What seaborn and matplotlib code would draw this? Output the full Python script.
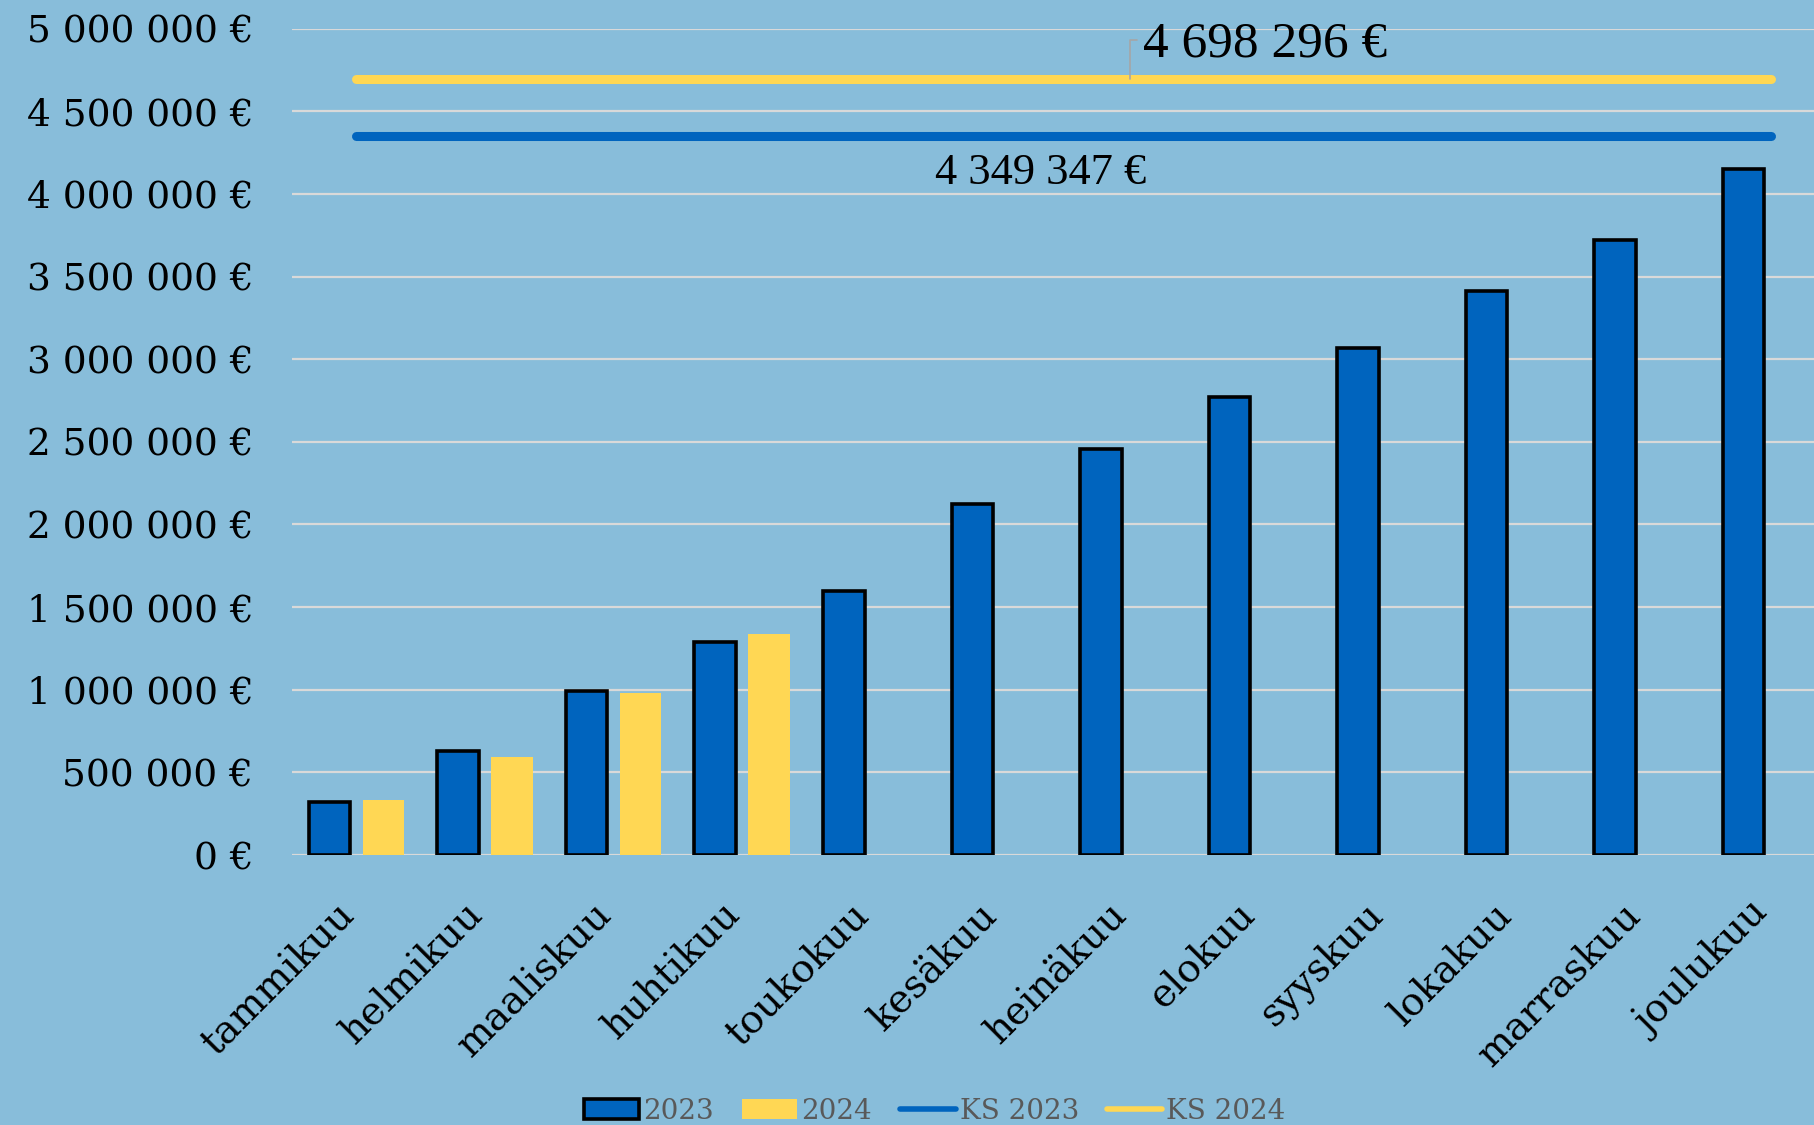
import seaborn as sns
import pandas as pd
import matplotlib
import matplotlib.pyplot as plt
from matplotlib.patches import Patch
from matplotlib.lines import Line2D

matplotlib.use("Agg")

months = ["tammikuu", "helmikuu", "maaliskuu", "huhtikuu", "toukokuu", "kesäkuu",
          "heinäkuu", "elokuu", "syyskuu", "lokakuu", "marraskuu", "joulukuu"]
values_2023 = [322000, 629000, 995000, 1287000, 1596000, 2126000,
               2455000, 2769000, 3070000, 3413000, 3720000, 4148000]
values_2024 = [333000, 593000, 979000, 1336000, None, None,
               None, None, None, None, None, None]
ks_2023 = 4349347
ks_2024 = 4698296
y_ticks = [0, 500000, 1000000, 1500000, 2000000, 2500000,
           3000000, 3500000, 4000000, 4500000, 5000000]

BG = "#88BDDA"
BLUE = "#0064BE"
YELLOW = "#FFD754"
GRID = "#D9D9D9"


def euro(v):
    return f"{int(v):,}".replace(",", " ") + " €"


data = pd.DataFrame({
    "kuukausi": months * 2,
    "vuosi": ["2023"] * 12 + ["2024"] * 12,
    "summa": values_2023 + values_2024,
}).dropna()

sns.set_style("white")
plt.rcParams["font.family"] = ["DejaVu Serif", "Liberation Serif"]

fig = plt.figure(figsize=(18.15, 11.25), dpi=100, facecolor=BG)
# axes runs a bit past the right edge, like in the original
ax = fig.add_axes([0.161, 0.24, 0.850, 0.7345])
ax.set_facecolor(BG)

sns.barplot(
    data=data, x="kuukausi", y="summa", hue="vuosi",
    order=months, hue_order=["2023", "2024"],
    palette=[BLUE, YELLOW], width=0.84, gap=0.23,
    saturation=1, legend=False, ax=ax, zorder=3,
)
for bar in ax.containers[0]:
    bar.set_edgecolor("black")
    bar.set_linewidth(2.6)
for bar in ax.containers[1]:
    bar.set_linewidth(0)

xs = list(range(len(months)))
ax.plot(xs, [ks_2024] * len(xs), color=YELLOW, lw=6.5, solid_capstyle="round", zorder=4)
ax.plot(xs, [ks_2023] * len(xs), color=BLUE, lw=6.5, solid_capstyle="round", zorder=4)

# value labels for the reference lines
ax.plot([6.02, 6.02, 6.07], [ks_2024, 4930000, 4930000], color="#A6A6A6", lw=1.2, zorder=4)
ax.text(6.12, 4905000, euro(ks_2024), fontsize=37, va="center", ha="left",
        color="black", family="Liberation Serif")
ax.text(4.50, 4125000, euro(ks_2023), fontsize=32, va="center", ha="left",
        color="black", family="Liberation Serif")

ax.set_xlim(-0.5, 11.5)
ax.set_ylim(0, 5000000)
ax.set_yticks(y_ticks)
ax.set_yticklabels([euro(v) for v in y_ticks], fontsize=27, color="black")
ax.set_xticks(xs)
ax.set_xticklabels(months, fontsize=28, rotation=45, ha="right", va="baseline",
                   rotation_mode="anchor", color="black")
ax.tick_params(axis="y", length=0, pad=28)
ax.tick_params(axis="x", length=0, pad=44)
ax.grid(axis="y", color=GRID, lw=1.6, zorder=0)
ax.set_axisbelow(True)
for s in ax.spines.values():
    s.set_visible(False)
ax.set_xlabel("")
ax.set_ylabel("")

handles = [
    Patch(facecolor=BLUE, edgecolor="black", linewidth=2.6),
    Patch(facecolor=YELLOW, edgecolor="none"),
    Line2D([], [], color=BLUE, lw=4, solid_capstyle="round"),
    Line2D([], [], color=YELLOW, lw=4, solid_capstyle="round"),
]
fig.legend(handles, ["2023", "2024", "KS 2023", "KS 2024"], loc="lower center",
           bbox_to_anchor=(0.515, -0.022), ncol=4, frameon=False, fontsize=20,
           labelcolor="#595959", handlelength=2.0, handletextpad=0.15,
           columnspacing=1.0)

fig.savefig("out.png", dpi=100, facecolor=BG)
